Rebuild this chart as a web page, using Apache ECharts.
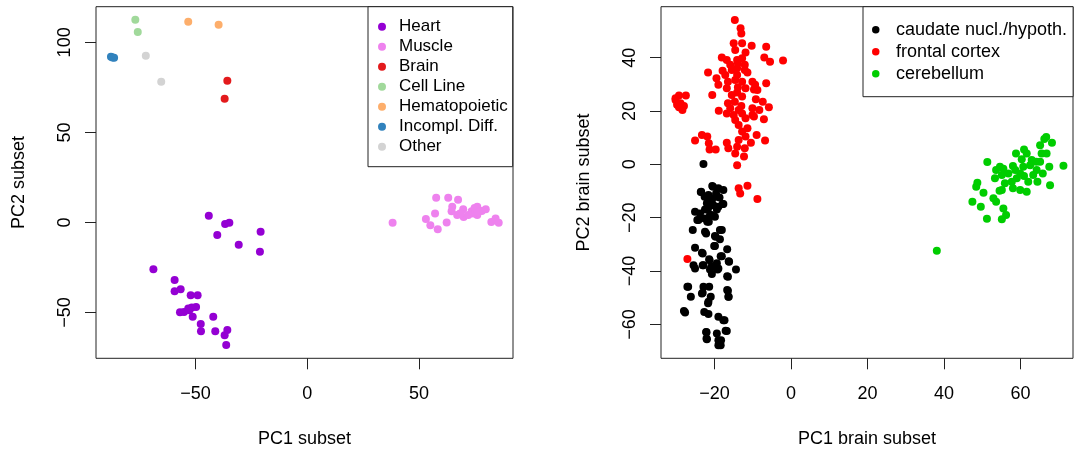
<!DOCTYPE html>
<html>
<head>
<meta charset="utf-8">
<script src="https://cdn.jsdelivr.net/npm/echarts@6/dist/echarts.min.js"></script>
<style>
  html, body { margin: 0; padding: 0; background: #fff; }
  #chart { width: 1076px; height: 449px; }
</style>
</head>
<body>
<div id="chart"></div>
<script>
// ---- Left panel: all tissues, PC1 vs PC2 ----
const tissueNames = ['Heart', 'Muscle', 'Brain', 'Cell Line', 'Hematopoietic', 'Incompl. Diff.', 'Other'];
const tissueColors = ['#9400D3', '#EE82EE', '#E31A1C', '#A1D99B', '#FDAE6B', '#3182BD', '#D3D3D3'];

const heart = [
  [-44.1, 3.7], [-36.8, -0.8], [-34.9, -0.2], [-40.3, -6.9], [-20.9, -5.2], [-30.7, -12.4],
  [-21.2, -16.3], [-68.9, -25.9], [-59.4, -31.9], [-59.4, -38.2], [-56.7, -37.1], [-52.2, -40.4],
  [-49.1, -40.4], [-57.0, -49.8], [-55.2, -49.7], [-53.3, -47.8], [-51.7, -47.2], [-49.8, -46.9],
  [-51.3, -52.4], [-52.8, -48.7], [-47.7, -56.3], [-42.1, -52.4], [-47.6, -60.4], [-41.2, -60.4],
  [-35.8, -59.7], [-37.0, -62.6], [-36.3, -68.0]
];
const muscle = [
  [38.2, -0.2], [53.1, 2.0], [55.1, -1.5], [58.4, -3.7], [57.2, 5.0], [57.7, 13.7], [63.1, 13.7],
  [67.5, 12.6], [62.4, 0.0], [64.9, 8.7], [64.6, 6.3], [67.1, 4.1], [70.0, 3.1], [69.8, 7.4],
  [73.6, 6.3], [76.1, 8.7], [76.1, 4.1], [78.1, 6.4], [79.9, 7.4], [74.3, 5.0], [82.4, 0.3],
  [84.3, 2.2], [85.7, -0.2], [72.1, 4.1], [68.4, 5.0], [74.9, 8.1], [76.4, 5.7]
];
const brain = [[-35.8, 78.7], [-37.0, 68.7]];
const cellLine = [[-77.0, 112.6], [-75.9, 105.7]];
const hematopoietic = [[-53.3, 111.4], [-39.7, 109.8]];
const incomplDiff = [[-87.9, 92.0], [-87.2, 91.6], [-86.5, 91.4]];
const other = [[-72.3, 92.6], [-65.4, 78.1]];

const tissueData = [heart, muscle, brain, cellLine, hematopoietic, incomplDiff, other];

// ---- Right panel: brain subset, PC1 vs PC2 ----
const regionNames = ['caudate nucl./hypoth.', 'frontal cortex', 'cerebellum'];
const regionColors = ['#000000', '#FF0000', '#00CD00'];

const caudate = [
  [-22.9, 0.1], [-20.6, -8.1], [-23.6, -10.4], [-17.7, -9.6], [-21.6, -11.5], [-19.6, -10.9],
  [-18.7, -12.4], [-20.7, -13.4], [-22.0, -14.6], [-20.3, -15.3], [-17.9, -14.9], [-22.5, -16.9],
  [-19.4, -16.9], [-25.1, -17.8], [-23.8, -18.4], [-21.2, -19.0], [-24.5, -20.9], [-21.9, -21.5],
  [-19.9, -19.6], [-25.7, -24.6], [-22.5, -25.3], [-18.6, -24.6], [-19.9, -26.9], [-18.6, -28.1],
  [-25.1, -31.3], [-20.1, -30.6], [-16.7, -31.8], [-23.3, -33.1], [-18.4, -34.4], [-21.4, -35.6],
  [-25.5, -37.8], [-22.9, -37.8], [-19.4, -37.1], [-16.3, -36.3], [-25.1, -39.0], [-21.2, -39.4],
  [-19.0, -39.0], [-14.4, -39.4], [-20.7, -41.1], [-16.7, -41.9], [-27.1, -45.9], [-22.9, -45.9],
  [-21.4, -45.9], [-16.7, -47.1], [-26.2, -49.6], [-23.1, -48.1], [-21.0, -49.6], [-16.3, -49.6],
  [-21.6, -51.5], [-28.0, -55.0], [-22.7, -55.3], [-21.6, -56.1], [-19.0, -57.1], [-17.7, -58.4],
  [-22.2, -62.8], [-19.4, -63.4], [-17.1, -62.4], [-22.0, -65.6], [-19.0, -65.9], [-18.4, -67.8],
  [-20.4, -8.4], [-23.5, -10.3], [-19.0, -9.0], [-22.6, -12.1], [-19.7, -12.1], [-21.3, -14.0],
  [-17.7, -14.9], [-21.7, -16.5], [-19.0, -15.9], [-24.2, -20.9], [-22.6, -20.3], [-21.5, -21.5],
  [-20.8, -19.0], [-22.2, -25.9], [-18.1, -24.6], [-19.7, -27.1], [-19.9, -30.6], [-23.1, -33.4],
  [-18.1, -34.4], [-23.1, -37.8], [-21.3, -35.9], [-19.2, -39.4], [-16.2, -36.5], [-16.5, -42.1],
  [-20.8, -38.4], [-26.9, -45.9], [-23.3, -48.4], [-21.7, -52.1], [-16.4, -49.6], [-16.5, -47.4],
  [-27.7, -55.5], [-17.4, -58.4], [-16.8, -62.5], [-22.1, -62.9], [-22.1, -65.3], [-18.3, -65.9],
  [-19.0, -67.8]
];
const frontal = [
  [-14.7, 54.1], [-13.2, 51.0], [-13.0, 49.1], [-15.0, 45.4], [-12.8, 45.4], [-10.3, 44.5],
  [-6.5, 44.1], [-14.6, 42.9], [-11.9, 41.9], [-7.0, 40.1], [-5.5, 38.5], [-2.1, 38.9],
  [-18.1, 40.1], [-16.8, 39.1], [-14.1, 39.1], [-12.8, 39.8], [-15.9, 37.3], [-13.9, 37.9],
  [-12.1, 37.3], [-17.9, 35.1], [-15.5, 35.4], [-14.1, 36.0], [-12.1, 35.4], [-21.7, 34.4],
  [-19.5, 32.3], [-17.2, 33.5], [-14.1, 33.5], [-11.4, 34.4], [-19.0, 29.8], [-16.5, 31.0],
  [-14.6, 31.6], [-12.8, 31.0], [-10.1, 31.0], [-9.4, 29.8], [-6.5, 30.4], [-16.8, 28.5],
  [-13.9, 28.9], [-11.9, 28.5], [-9.7, 28.1], [-8.8, 27.9], [-20.6, 26.0], [-15.5, 26.0],
  [-14.1, 26.9], [-12.8, 25.4], [-9.2, 24.4], [-7.4, 23.5], [-5.8, 21.4], [-16.5, 22.9],
  [-14.7, 23.5], [-13.0, 21.9], [-10.1, 21.0], [-8.3, 20.4], [-18.9, 20.1], [-15.9, 21.0],
  [-13.7, 20.4], [-16.8, 19.1], [-15.0, 18.5], [-12.8, 19.1], [-9.7, 17.9], [-14.6, 16.6],
  [-11.9, 17.3], [-10.1, 18.5], [-7.1, 16.9], [-13.7, 14.8], [-11.4, 13.5], [-9.0, 11.0],
  [-12.8, 12.3], [-13.7, 9.1], [-11.9, 10.4], [-10.5, 8.1], [-6.8, 8.9], [-12.1, 6.0],
  [-16.8, 8.1], [-16.4, 6.0], [-14.1, 6.6], [-14.6, 4.1], [-12.3, 2.9], [-14.1, -0.3],
  [-23.3, 11.0], [-21.9, 10.4], [-25.1, 8.9], [-21.5, 7.9], [-21.3, 5.6], [-19.7, 5.6],
  [-13.7, -9.0], [-11.4, -8.0], [-13.3, -10.9], [-8.8, -13.0], [-27.1, -35.5],
  [-29.3, 25.8], [-27.5, 25.8], [-30.2, 24.1], [-28.9, 22.9], [-29.8, 22.3], [-28.0, 21.9],
  [-28.4, 20.4], [-29.3, 21.4], [-30.2, 24.8]
];
const cerebellum = [
  [51.3, 0.9], [54.6, -0.9], [53.6, -2.1], [55.5, -1.6], [53.3, -5.2], [55.1, -4.0], [58.0, -0.6],
  [58.8, 4.1], [60.9, 5.6], [61.6, 4.1], [60.3, 1.9], [62.9, 1.6], [62.5, -0.3], [64.1, 1.0],
  [64.2, -2.1], [65.5, 4.1], [66.8, 4.1], [65.1, 7.2], [66.2, 9.5], [66.7, 10.3], [68.2, 8.1],
  [65.1, 1.0], [65.8, -3.4], [64.4, -6.5], [67.5, -0.9], [67.7, -7.8], [71.2, -0.5], [59.9, -3.4],
  [59.0, -5.2], [60.9, -4.4], [57.7, -6.5], [55.9, -7.1], [55.1, -9.6], [54.5, -9.9], [58.0, -9.0],
  [59.9, -9.6], [61.6, -10.3], [62.0, -6.5], [48.7, -6.9], [48.4, -8.4], [50.3, -10.6], [47.4, -14.0],
  [49.6, -15.9], [52.9, -12.7], [53.6, -14.0], [55.5, -16.5], [56.2, -19.0], [55.1, -20.6],
  [51.2, -20.4], [38.1, -32.4], [63.3, -4.0], [60.7, -0.9], [56.8, -3.4], [58.6, -2.1]
];
const regionData = [caudate, frontal, cerebellum];

// Tick positions for each axis
const leftXTicks = [-50, 0, 50];
const leftYTicks = [-50, 0, 50, 100];
const rightXTicks = [-20, 0, 20, 40, 60];
const rightYTicks = [-60, -40, -20, 0, 20, 40];

const FONT = '"Liberation Sans", Arial, Helvetica, sans-serif';
const INK = '#222';

function minusSign(v) {
  return String(v).replace('-', '\u2212');
}

function valueAxis(gridIndex, min, max, ticks, name, isY) {
  return {
    type: 'value',
    gridIndex: gridIndex,
    min: min,
    max: max,
    name: name,
    nameLocation: 'middle',
    nameGap: isY ? 68 : 72,
    nameTextStyle: { fontFamily: FONT, fontSize: 18, color: '#000' },
    splitLine: { show: false },
    axisLine: { show: false, onZero: false },
    axisTick: {
      show: true, inside: false, length: 11, customValues: ticks,
      lineStyle: { color: INK, width: 1 }
    },
    axisLabel: {
      customValues: ticks, margin: isY ? 22 : 27, rotate: isY ? 90 : 0,
      fontFamily: FONT, fontSize: 18, color: '#000',
      formatter: minusSign
    }
  };
}

function scatterSeries(name, data, color, axisIndex, size) {
  return {
    type: 'scatter',
    name: name,
    data: data,
    xAxisIndex: axisIndex,
    yAxisIndex: axisIndex,
    symbol: 'circle',
    symbolSize: size,
    itemStyle: { color: color, opacity: 1 },
    emphasis: { disabled: true },
    silent: true
  };
}

const series = [];
tissueNames.forEach((n, i) => series.push(scatterSeries(n, tissueData[i], tissueColors[i], 0, 8)));
regionNames.forEach((n, i) => series.push(scatterSeries(n, regionData[i], regionColors[i], 1, 8)));

const panelGrid = {
  top: 6.7, height: 351.6, show: true, borderColor: INK, borderWidth: 1,
  backgroundColor: 'transparent', containLabel: false, outerBoundsMode: 'none'
};

const chart = echarts.init(document.getElementById('chart'), null, { renderer: 'canvas' });
chart.setOption({
  animation: false,
  backgroundColor: '#ffffff',
  textStyle: { fontFamily: FONT },
  grid: [
    Object.assign({ left: 96, width: 417 }, panelGrid),
    Object.assign({ left: 661, width: 412 }, panelGrid)
  ],
  xAxis: [
    valueAxis(0, -94.6, 92.1, leftXTicks, 'PC1 subset', false),
    valueAxis(1, -34.0, 73.7, rightXTicks, 'PC1 brain subset', false)
  ],
  yAxis: [
    valueAxis(0, -75.4, 119.8, leftYTicks, 'PC2 subset', true),
    valueAxis(1, -72.7, 59.1, rightYTicks, 'PC2 brain subset', true)
  ],
  legend: [
    {
      data: tissueNames, orient: 'vertical', left: 368, top: 6.7,
      padding: [10, 5, 10, 10], itemGap: 0, itemWidth: 8, itemHeight: 8, icon: 'circle',
      textStyle: { fontFamily: FONT, fontSize: 17, color: '#000', lineHeight: 20, padding: [0, 0, 0, 8] },
      borderColor: INK, borderWidth: 1, borderRadius: 0, backgroundColor: '#fff', selectedMode: false
    },
    {
      data: regionNames, orient: 'vertical', left: 863, top: 6.7,
      padding: [12, 6, 12, 9], itemGap: 0, itemWidth: 7.5, itemHeight: 7.5, icon: 'circle',
      textStyle: { fontFamily: FONT, fontSize: 18, color: '#000', lineHeight: 22, padding: [0, 0, 0, 11.5] },
      borderColor: INK, borderWidth: 1, borderRadius: 0, backgroundColor: '#fff', selectedMode: false
    }
  ],
  series: series
});
</script>
</body>
</html>
